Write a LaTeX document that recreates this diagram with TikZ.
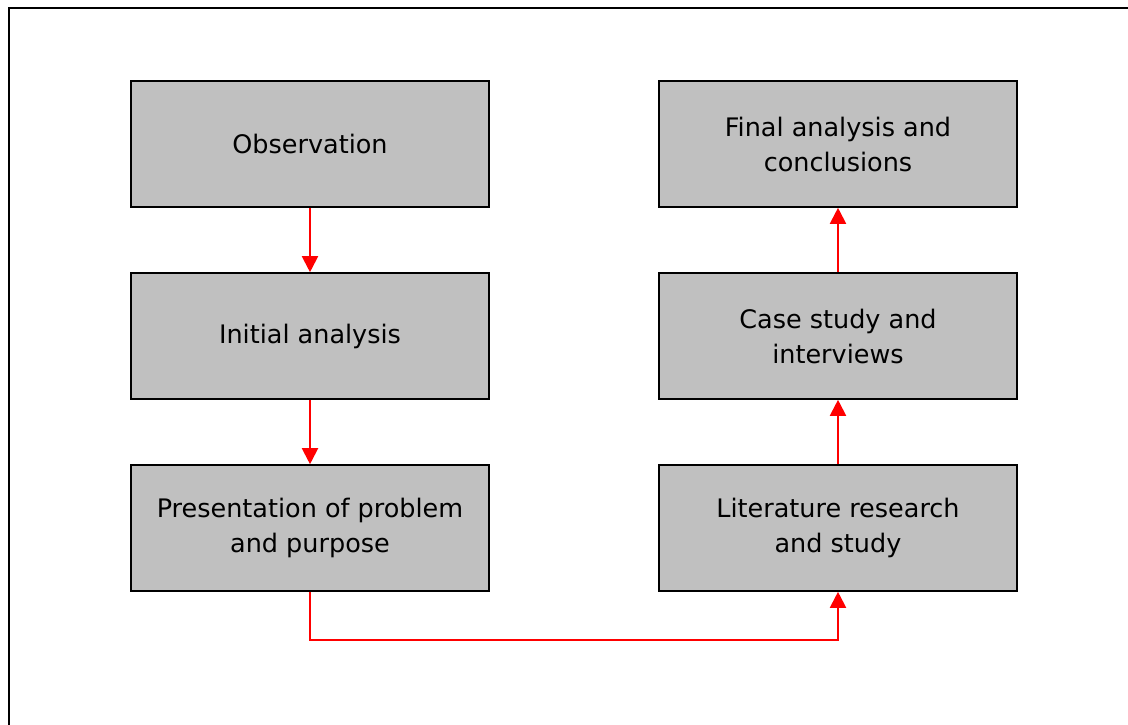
\documentclass[tikz,border=0pt]{standalone}
\usepackage{fontspec}
\setmainfont{DejaVu Sans}
\usetikzlibrary{arrows.meta}
\definecolor{boxgray}{HTML}{C0C0C0}
\begin{document}
\begin{tikzpicture}[x=1pt,y=-1pt,
  box/.style={draw=black, line width=1.6pt, fill=boxgray, minimum width=358pt,
    minimum height=126pt, align=center, inner sep=0pt,
    font=\fontsize{25.5}{35}\selectfont},
  flow/.style={draw=red, line width=2pt, -{Triangle[length=16pt,width=16pt]}}]
\useasboundingbox (0,0) rectangle (1128,724);
\draw[line width=2pt] (8.5,730) -- (8.5,7.5) -- (1135,7.5);
\node[box] (obs)  at (310,144) {Observation};
\node[box] (init) at (310,336) {Initial analysis};
\node[box] (pres) at (310,528) {Presentation of problem\\and purpose};
\node[box] (fin)  at (838,144) {Final analysis and\\conclusions};
\node[box] (case) at (838,336) {Case study and\\interviews};
\node[box] (lit)  at (838,528) {Literature research\\and study};
\coordinate (turn) at (310,640);
\draw[flow] (obs.south) -- (init.north);
\draw[flow] (init.south) -- (pres.north);
\draw[flow] (pres.south) -- (turn) -| (lit.south);
\draw[flow] (lit.north) -- (case.south);
\draw[flow] (case.north) -- (fin.south);
\end{tikzpicture}
\end{document}
